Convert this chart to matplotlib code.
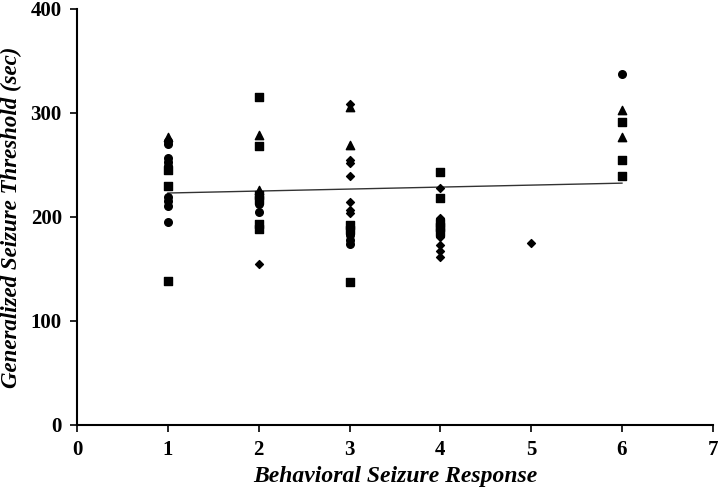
import numpy as np
from matplotlib import pyplot as plt

plt.rcParams.update({'font.family': 'Liberation Serif', 'font.weight': 'bold', 'font.size': 15})

# seizure thresholds by behavioural score, grouped by marker
circle_x = [1, 1, 1, 1, 1, 1, 1, 1, 1, 2, 2, 3, 3, 3, 6]
circle_y = [273, 270, 257, 253, 249, 219, 215, 211, 195, 212, 205, 183, 178, 174, 337]

square_x = [1, 1, 1, 2, 2, 2, 2, 2, 2, 3, 3, 3, 4, 4, 4, 4, 4, 6, 6, 6]
square_y = [245, 230, 138, 315, 268, 221, 216, 193, 188, 192, 187, 137,
            243, 218, 194, 190, 186, 291, 255, 239]

triangle_x = [1, 2, 2, 3, 3, 6, 6]
triangle_y = [277, 279, 226, 306, 269, 303, 277]

diamond_x = [2, 3, 3, 3, 3, 3, 3, 3, 4, 4, 4, 4, 4, 4, 5]
diamond_y = [155, 309, 255, 252, 239, 214, 207, 204, 228, 199, 181, 173, 167, 161, 175]

# trend line
trend_x = [1, 6]
trend_y = [223, 232.5]

fig = plt.figure(figsize=(7.2, 4.97), dpi=100)
ax = fig.add_axes([0.107, 0.145, 0.883, 0.837])

ax.plot(trend_x, trend_y, color='#333333', linewidth=1)
ax.scatter(circle_x, circle_y, marker='o', s=30, color='black', zorder=3)
ax.scatter(square_x, square_y, marker='s', s=30, color='black', zorder=3)
ax.scatter(triangle_x, triangle_y, marker='^', s=36, color='black', zorder=3)
ax.scatter(diamond_x, diamond_y, marker='D', s=16, color='black', zorder=3)

ax.set_xlim(0, 7)
ax.set_ylim(0, 400)
ax.set_xticks(range(8))
ax.set_yticks([0, 100, 200, 300, 400])
ax.spines['top'].set_visible(False)
ax.spines['right'].set_visible(False)
ax.spines['left'].set_linewidth(1.5)
ax.spines['bottom'].set_linewidth(1.5)
ax.tick_params(direction='out', length=5, width=1.2, labelsize=15, pad=6)

ax.set_xlabel('Behavioral Seizure Response', fontsize=17, style='italic',
              fontweight='bold', labelpad=4)
ax.set_ylabel('Generalized Seizure Threshold (sec)', fontsize=16.5, style='italic',
              fontweight='bold')
ax.yaxis.set_label_coords(-0.087, 0.5)

plt.savefig('out.png', dpi=100)
